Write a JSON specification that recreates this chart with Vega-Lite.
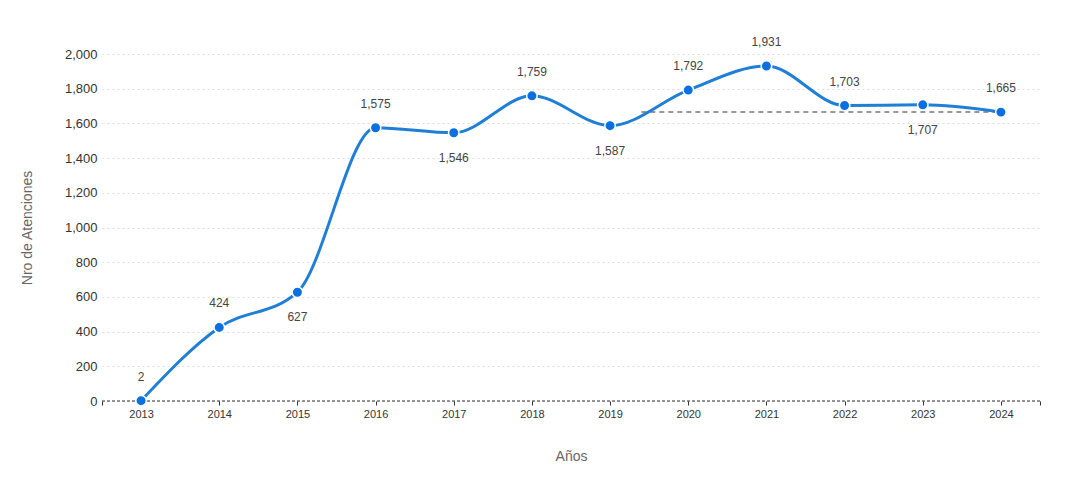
{
  "$schema": "https://vega.github.io/schema/vega-lite/v6.json",
  "width": 938,
  "height": 347,
  "autosize": {"type": "none"},
  "padding": {"left": 102, "top": 54, "right": 28, "bottom": 80},
  "background": "white",
  "config": {
    "view": {"stroke": null},
    "font": "Liberation Sans",
    "axis": {"labelFont": "Liberation Sans", "titleFont": "Liberation Sans", "labelOverlap": false}
  },
  "datasets": {
    "main": [
      {"year": 2013, "value": 2},
      {"year": 2014, "value": 424},
      {"year": 2015, "value": 627},
      {"year": 2016, "value": 1575},
      {"year": 2017, "value": 1546},
      {"year": 2018, "value": 1759},
      {"year": 2019, "value": 1587},
      {"year": 2020, "value": 1792},
      {"year": 2021, "value": 1931},
      {"year": 2022, "value": 1703},
      {"year": 2023, "value": 1707},
      {"year": 2024, "value": 1665}
    ],
    "ref": [
      {"year": 2019.4, "value": 1665},
      {"year": 2024, "value": 1665}
    ],
    "base": [
      {"year": 2012.5, "value": 0},
      {"year": 2024.5, "value": 0}
    ]
  },
  "encoding": {
    "x": {
      "field": "year", "type": "quantitative",
      "scale": {"domain": [2012.5, 2024.5], "nice": false, "zero": false},
      "axis": {
        "values": [2012.5, 2013, 2014, 2015, 2016, 2017, 2018, 2019, 2020, 2021, 2022, 2023, 2024, 2024.5],
        "labelExpr": "datum.value % 1 === 0 ? format(datum.value, 'd') : ''",
        "labelOverlap": false,
        "labelBound": false,
        "labelFlush": false,
        "grid": false,
        "domain": false,
        "tickColor": "#333",
        "tickSize": 4,
        "labelColor": "#333",
        "labelFontSize": 11,
        "labelPadding": 3,
        "title": "Años",
        "titleColor": "#666",
        "titleFontSize": 14,
        "titleFontWeight": "normal",
        "titlePadding": 30
      }
    },
    "y": {
      "field": "value", "type": "quantitative",
      "scale": {"domain": [0, 2000], "nice": false},
      "axis": {
        "values": [0, 200, 400, 600, 800, 1000, 1200, 1400, 1600, 1800, 2000],
        "format": ",d",
        "labelOverlap": false,
        "labelBound": false,
        "labelFlush": false,
        "domain": false,
        "ticks": false,
        "grid": true,
        "gridColor": "#ddd",
        "gridDash": [2, 3],
        "labelColor": "#333",
        "labelFontSize": 13,
        "labelPadding": 5,
        "title": "Nro de Atenciones",
        "titleColor": "#666",
        "titleFontSize": 14,
        "titleFontWeight": "normal",
        "titlePadding": 30
      }
    }
  },
  "layer": [
    {
      "data": {"name": "base"},
      "mark": {"type": "line", "color": "#333", "strokeDash": [3, 2], "strokeWidth": 1.2}
    },
    {
      "data": {"name": "ref"},
      "mark": {"type": "line", "color": "#777", "strokeDash": [5, 4], "strokeWidth": 1.5}
    },
    {
      "data": {"name": "main"},
      "mark": {"type": "line", "color": "#1f7fd6", "strokeWidth": 3, "interpolate": "monotone"}
    },
    {
      "data": {"name": "main"},
      "mark": {"type": "circle", "color": "#0a6fe0", "size": 110, "opacity": 1, "stroke": "white", "strokeWidth": 1.5}
    },
    {
      "data": {"name": "main"},
      "transform": [{"filter": "indexof([2015, 2017, 2019, 2023], datum.year) < 0"}],
      "mark": {"type": "text", "dy": -24, "fontSize": 12, "color": "#444"},
      "encoding": {
        "text": {"field": "value", "type": "quantitative", "format": ","}
      }
    },
    {
      "data": {"name": "main"},
      "transform": [{"filter": "indexof([2015, 2017, 2019, 2023], datum.year) >= 0"}],
      "mark": {"type": "text", "dy": 25, "fontSize": 12, "color": "#444"},
      "encoding": {
        "text": {"field": "value", "type": "quantitative", "format": ","}
      }
    }
  ]
}
